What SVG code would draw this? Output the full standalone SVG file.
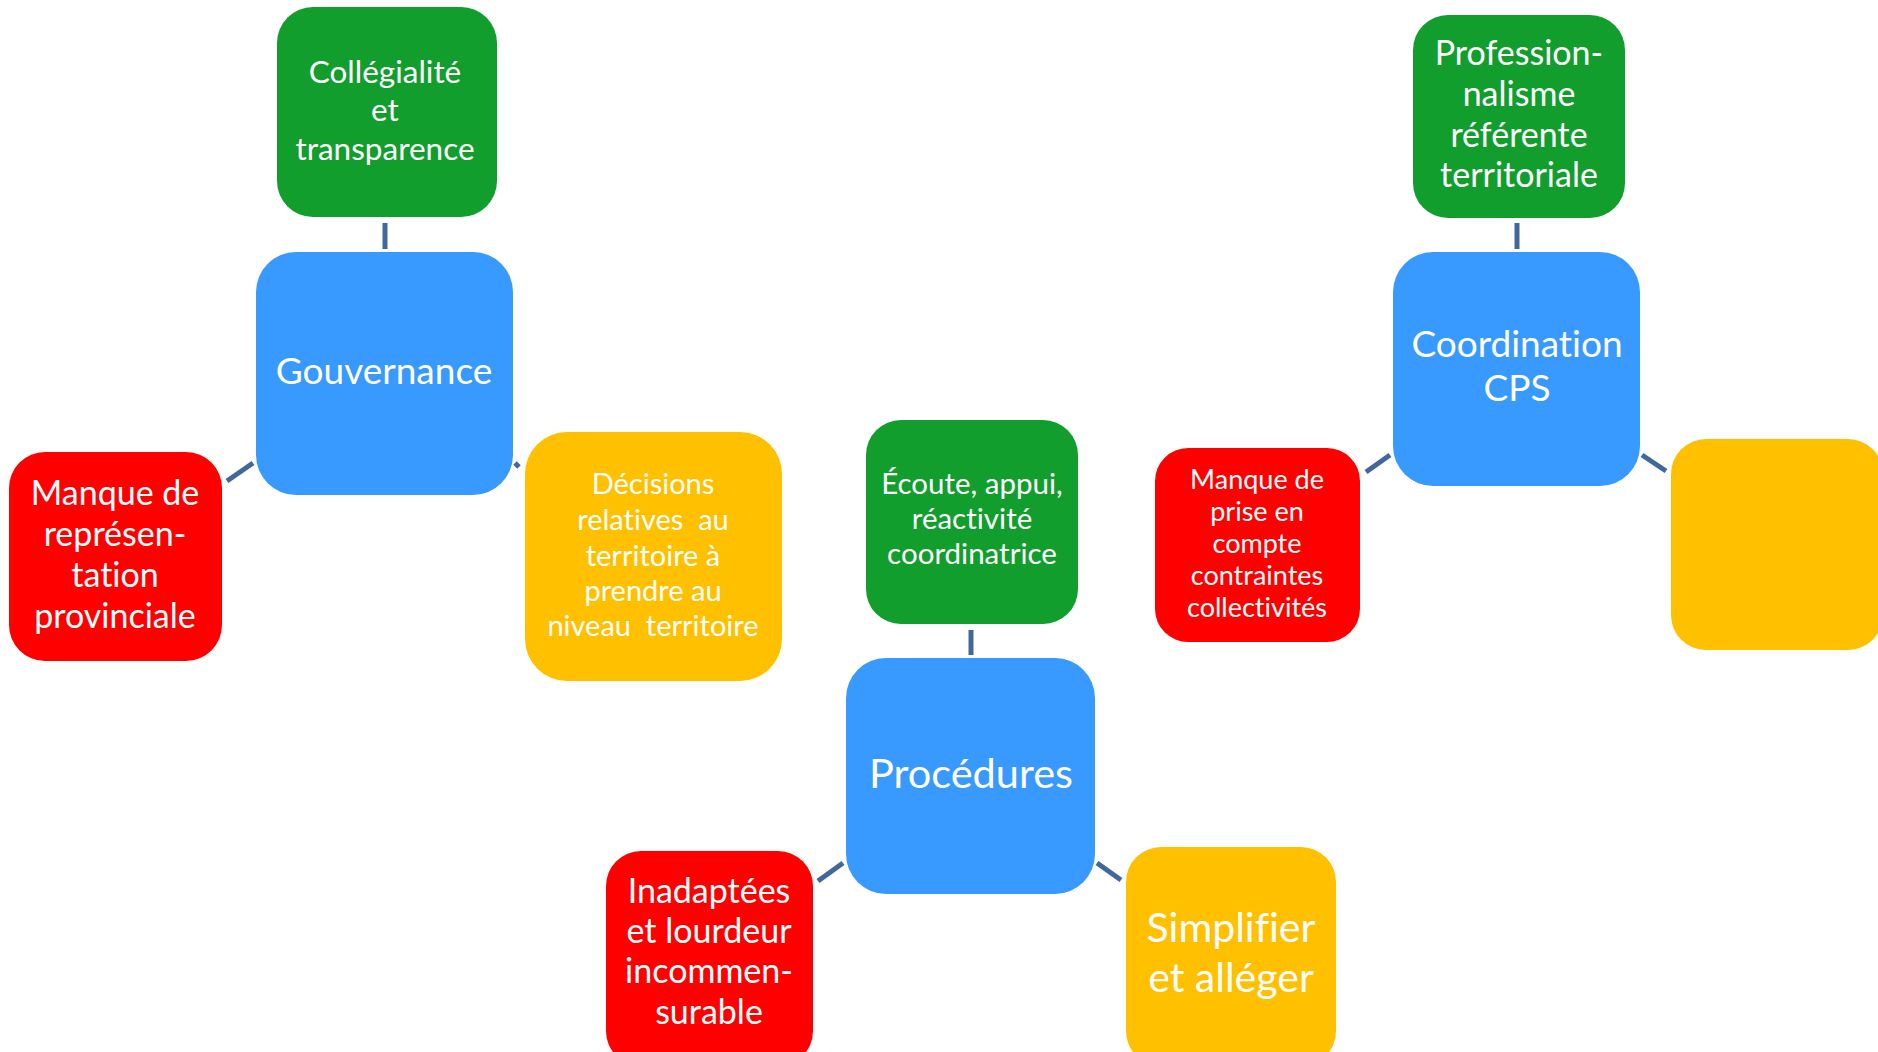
<svg xmlns="http://www.w3.org/2000/svg" width="1878" height="1052" viewBox="0 0 1878 1052">
<style>
  .green{fill:#119E2D}
  .blue{fill:#3899FF}
  .red{fill:#FF0000}
  .yellow{fill:#FFC000}
  .t{font-family:Lato,"Noto Sans","Liberation Sans",sans-serif;fill:#FFFFFF;text-anchor:middle;font-variant-ligatures:none;font-feature-settings:"liga" 0,"clig" 0}
  .conn line{stroke:#41689C;stroke-width:5;stroke-linecap:butt}
</style>
<rect width="1878" height="1052" fill="#FFFFFF"/>
<g id="connectors" class="conn">
  <line x1="385" y1="223" x2="385" y2="249"/>
  <line x1="227" y1="481" x2="253" y2="463"/>
  <line x1="515" y1="463" x2="519" y2="467"/>
  <line x1="971" y1="630" x2="971" y2="655"/>
  <line x1="818" y1="881" x2="843" y2="863"/>
  <line x1="1097" y1="863" x2="1121" y2="880"/>
  <line x1="1517" y1="223" x2="1517" y2="249"/>
  <line x1="1366" y1="472" x2="1390" y2="455"/>
  <line x1="1642" y1="455" x2="1666" y2="471"/>
</g>
<g id="collegialite">
  <rect class="green" x="277" y="7" width="220" height="210" rx="36"/>
  <text class="t" font-size="31.5"><tspan x="385" y="83">Collégialité</tspan><tspan x="385" y="121">et</tspan><tspan x="385" y="160">transparence</tspan></text>
</g>
<g id="gouvernance">
  <rect class="blue" x="256" y="252" width="257" height="243" rx="40"/>
  <text class="t" font-size="37" x="384" y="384">Gouvernance</text>
</g>
<g id="manque-representation">
  <rect class="red" x="9" y="452" width="213" height="209" rx="36"/>
  <text class="t" font-size="34"><tspan x="115" y="505">Manque de</tspan><tspan x="115" y="546">représen-</tspan><tspan x="115" y="587">tation</tspan><tspan x="115" y="628">provinciale</tspan></text>
</g>
<g id="decisions">
  <rect class="yellow" x="525" y="432" width="257" height="249" rx="42"/>
  <text class="t" font-size="29" xml:space="preserve"><tspan x="653" y="494">Décisions</tspan><tspan x="653" y="530">relatives  au</tspan><tspan x="653" y="566">territoire à</tspan><tspan x="653" y="601">prendre au</tspan><tspan x="653" y="636">niveau  territoire</tspan></text>
</g>
<g id="ecoute">
  <rect class="green" x="866" y="420" width="212" height="204" rx="35"/>
  <text class="t" font-size="29.5"><tspan x="972" y="494">Écoute, appui,</tspan><tspan x="972" y="529">réactivité</tspan><tspan x="972" y="564">coordinatrice</tspan></text>
</g>
<g id="procedures">
  <rect class="blue" x="846" y="658" width="249" height="236" rx="40"/>
  <text class="t" font-size="41.5" x="971" y="788">Procédures</text>
</g>
<g id="inadaptees">
  <rect class="red" x="606" y="851" width="207" height="215" rx="35"/>
  <text class="t" font-size="34"><tspan x="709" y="903">Inadaptées</tspan><tspan x="709" y="943">et lourdeur</tspan><tspan x="709" y="983">incommen-</tspan><tspan x="709" y="1024">surable</tspan></text>
</g>
<g id="simplifier">
  <rect class="yellow" x="1126" y="847" width="210" height="219" rx="35"/>
  <text class="t" font-size="41"><tspan x="1231" y="942">Simplifier</tspan><tspan x="1231" y="992">et alléger</tspan></text>
</g>
<g id="professionnalisme">
  <rect class="green" x="1413" y="15" width="212" height="203" rx="35"/>
  <text class="t" font-size="34"><tspan x="1519" y="65">Profession-</tspan><tspan x="1519" y="106">nalisme</tspan><tspan x="1519" y="147">référente</tspan><tspan x="1519" y="187">territoriale</tspan></text>
</g>
<g id="coordination">
  <rect class="blue" x="1393" y="252" width="247" height="234" rx="40"/>
  <text class="t" font-size="37"><tspan x="1517" y="357">Coordination</tspan><tspan x="1517" y="401">CPS</tspan></text>
</g>
<g id="manque-prise">
  <rect class="red" x="1155" y="448" width="205" height="194" rx="33"/>
  <text class="t" font-size="27"><tspan x="1257" y="489">Manque de</tspan><tspan x="1257" y="521">prise en</tspan><tspan x="1257" y="553">compte</tspan><tspan x="1257" y="585">contraintes</tspan><tspan x="1257" y="617">collectivités</tspan></text>
</g>
<g id="yellow-empty">
  <rect class="yellow" x="1671" y="439" width="212" height="211" rx="35"/>
</g>
</svg>
